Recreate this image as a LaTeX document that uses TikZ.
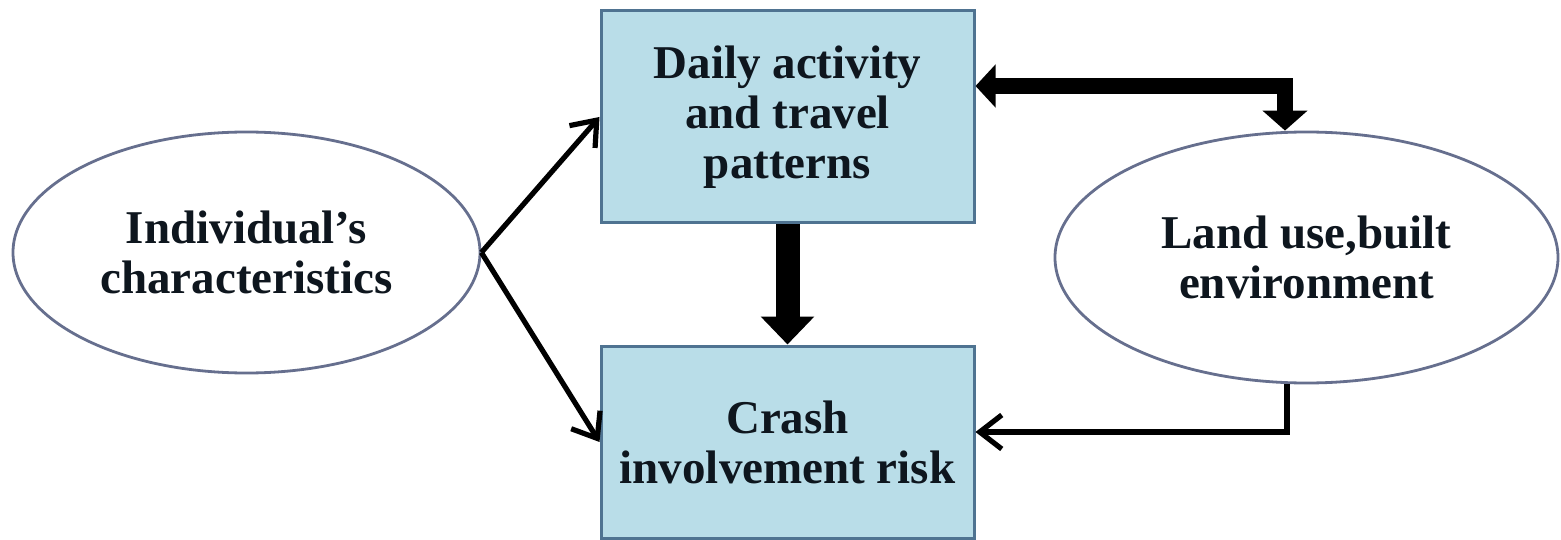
\documentclass[tikz,border=0pt]{standalone}
\usepackage{fontspec}
\setmainfont{Liberation Serif}
\usetikzlibrary{arrows.meta,shapes.geometric}
\definecolor{boxfill}{HTML}{B9DDE8}
\definecolor{boxline}{HTML}{4F7391}
\definecolor{elline}{HTML}{666F8E}
\definecolor{txt}{HTML}{0E161E}
\begin{document}
\begin{tikzpicture}[x=1pt,y=-1pt,
  lbl/.style={font=\bfseries\fontsize{47}{50}\selectfont, text=txt, align=center, inner sep=0pt},
  boxnode/.style={lbl, draw=boxline, line width=3pt, fill=boxfill, minimum width=373pt},
  ellnode/.style={lbl, draw=elline, line width=2.8pt, fill=white, shape=ellipse},
  thinarrow/.style={line width=5.2pt, draw=black, -{Straight Barb[length=22pt,width=34pt]}},
  thickarrow/.style={draw=black, line join=miter}
]
\useasboundingbox (0,0) rectangle (1561,540);

\node[boxnode, minimum height=212pt] (top) at (787.5,117) {Daily activity\\and travel\\patterns};
\node[boxnode, minimum height=192pt] (bot) at (787.5,442) {Crash\\involvement risk};
\node[ellnode, minimum width=467pt, minimum height=241pt] (left) at (246.5,252.5) {Individual's\\characteristics};
\node[ellnode, minimum width=503pt, minimum height=251pt] (right) at (1306.5,257.5) {Land use,built\\environment};

\coordinate (c1) at (1285,86);
\coordinate (c2) at (1287,432);

\draw[thinarrow] (left.east) -- (top.west);
\draw[thinarrow] (left.east) -- (bot.west);
\draw[thickarrow, line width=24pt, -{Triangle[length=28pt,width=52pt]}] (top.south) -- (bot.north);
\draw[thickarrow, line width=16pt, {Triangle[length=20pt,width=42pt]}-{Triangle[length=20pt,width=44pt]}] (top.east |- c1) -- (c1) -- (c1 |- right.north);
\draw[thinarrow, line join=miter] (c2 |- right.south) -- (c2) -- (bot.east |- c2);
\end{tikzpicture}
\end{document}
